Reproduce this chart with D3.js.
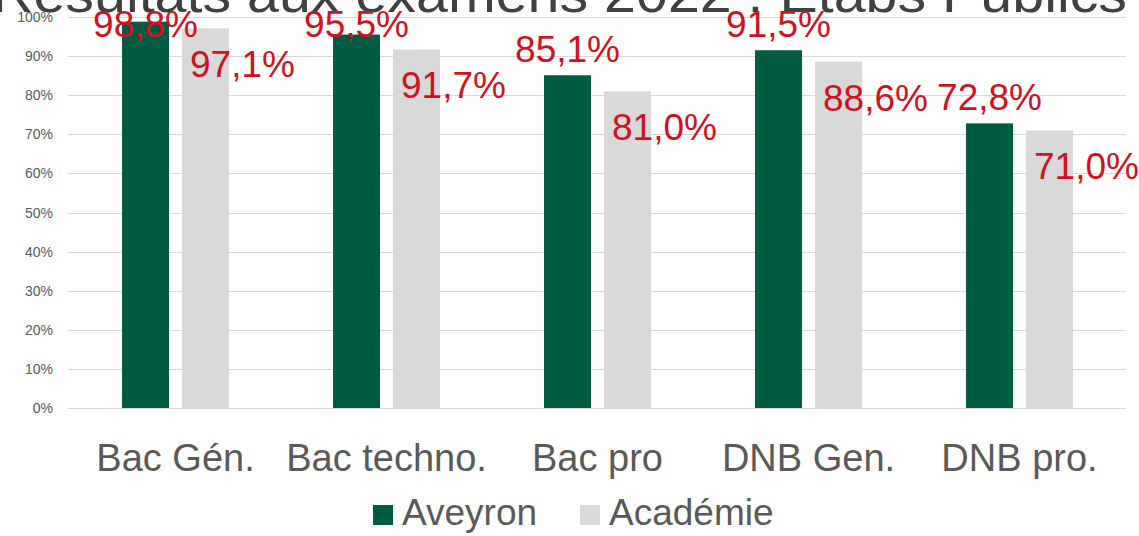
<!DOCTYPE html>
<html>
<head>
<meta charset="utf-8">
<script src="https://cdn.jsdelivr.net/npm/d3@7"></script>
<style>
  body { margin: 0; background: #fff; }
  svg { display: block; font-family: "Liberation Sans", Arial, sans-serif; }
</style>
</head>
<body>
<div id="chart"></div>
<script>
var categories = ["Bac Gén.", "Bac techno.", "Bac pro", "DNB Gen.", "DNB pro."];
var series = ["Aveyron", "Académie"];
var aveyron = [0.988, 0.955, 0.851, 0.915, 0.728];
var academie = [0.971, 0.917, 0.810, 0.886, 0.710];
var aveyronLabels = ["98,8%", "95,5%", "85,1%", "91,5%", "72,8%"];
var academieLabels = ["97,1%", "91,7%", "81,0%", "88,6%", "71,0%"];
var yTicks = [0, 0.1, 0.2, 0.3, 0.4, 0.5, 0.6, 0.7, 0.8, 0.9, 1];
var title = "Résultats aux examens 2022 : Etabs Publics";

var width = 1139, height = 536;
var colors = { "Aveyron": "#005c40", "Académie": "#d9d9d9" };
var labelColor = "#d0111f";
var textColor = "#595959";

var svg = d3.select("#chart").append("svg")
    .attr("width", width)
    .attr("height", height);

var y = d3.scaleLinear().domain([0, 1]).range([408, 17]);

var x0 = d3.scaleBand()
    .domain(categories)
    .range([70, 1125])
    .paddingInner(0.493)
    .paddingOuter(0.2465);

var x1 = d3.scaleBand()
    .domain(series)
    .range([0, x0.bandwidth()])
    .paddingInner(0.2167);

// title, cut off by the top edge
svg.append("text")
    .attr("x", -8)
    .attr("y", 12)
    .attr("textLength", 1135)
    .attr("lengthAdjust", "spacingAndGlyphs")
    .style("font-size", "52px")
    .style("fill", "#404040")
    .text(title);

// grid
svg.append("g").selectAll("line")
    .data(yTicks)
    .enter().append("line")
      .attr("x1", 68)
      .attr("x2", 1126)
      .attr("y1", function(d) { return Math.round(y(d)) + 0.5; })
      .attr("y2", function(d) { return Math.round(y(d)) + 0.5; })
      .attr("stroke", "#d9d9d9")
      .attr("stroke-width", 1);

svg.append("g").selectAll("text")
    .data(yTicks)
    .enter().append("text")
      .attr("x", 53)
      .attr("y", function(d) { return y(d) + 5; })
      .attr("text-anchor", "end")
      .style("font-size", "14px")
      .style("fill", textColor)
      .text(function(d) { return Math.round(d * 100) + "%"; });

var rows = categories.map(function(c, i) {
  return { cat: c, values: [
    { key: "Aveyron", value: aveyron[i], label: aveyronLabels[i] },
    { key: "Académie", value: academie[i], label: academieLabels[i] }
  ]};
});

var group = svg.append("g").selectAll("g")
    .data(rows)
    .enter().append("g")
      .attr("transform", function(d) { return "translate(" + x0(d.cat) + ",0)"; });

group.selectAll("rect")
    .data(function(d) { return d.values; })
    .enter().append("rect")
      .attr("x", function(d) { return x1(d.key); })
      .attr("y", function(d) { return y(d.value); })
      .attr("width", x1.bandwidth())
      .attr("height", function(d) { return y(0) - y(d.value); })
      .attr("fill", function(d) { return colors[d.key]; });

// value labels
group.append("text")
    .attr("x", function(d) { return x1("Aveyron") + x1.bandwidth() / 2; })
    .attr("y", function(d) { return Math.max(y(d.values[0].value) - 13, 37); })
    .attr("text-anchor", "middle")
    .style("font-size", "37px")
    .style("fill", labelColor)
    .text(function(d) { return d.values[0].label; });

group.append("text")
    .attr("x", function(d) { return x1("Académie") + 8; })
    .attr("y", function(d) { return y(d.values[1].value) + 49; })
    .style("font-size", "37px")
    .style("fill", labelColor)
    .text(function(d) { return d.values[1].label; });

// category axis
svg.append("g").selectAll("text")
    .data(categories)
    .enter().append("text")
      .attr("x", function(d) { return x0(d) + x0.bandwidth() / 2; })
      .attr("y", 471)
      .attr("text-anchor", "middle")
      .style("font-size", "38px")
      .style("fill", textColor)
      .text(function(d) { return d; });

// legend
var legendX = [373, 580];
var legend = svg.append("g").selectAll("g")
    .data(series)
    .enter().append("g")
      .attr("transform", function(d, i) { return "translate(" + legendX[i] + ",505)"; });

legend.append("rect")
    .attr("width", 20)
    .attr("height", 20)
    .attr("fill", function(d) { return colors[d]; });

legend.append("text")
    .attr("x", 29)
    .attr("y", 20)
    .style("font-size", "37px")
    .style("fill", textColor)
    .text(function(d) { return d; });
</script>
</body>
</html>
